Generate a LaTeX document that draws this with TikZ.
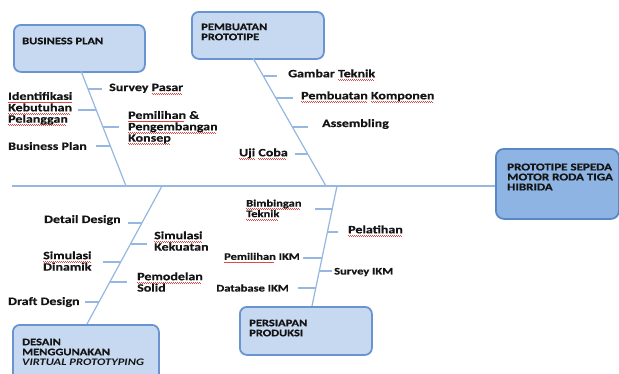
\documentclass[tikz,border=0pt]{standalone}
\usepackage{fontspec}
\setmainfont{Carlito}[FakeStretch=1.25, BoldFeatures={FakeBold=0.5}]
\usetikzlibrary{calc}
\definecolor{boxfill}{HTML}{C6D9F1}
\definecolor{boxline}{HTML}{6A94CF}
\definecolor{efffill}{HTML}{8DB4E2}
\definecolor{effline}{HTML}{5A87C5}
\definecolor{bonecol}{HTML}{95B7E0}
\definecolor{txt}{HTML}{141414}
\definecolor{squig}{HTML}{E04848}
\newsavebox\rwbox
\newcommand\rw[1]{\sbox\rwbox{#1}\rlap{\color{squig}\leaders\hbox to 2pt{\rule[-2.6pt]{1pt}{0.8pt}\rule[-3.3pt]{1pt}{0.8pt}}\hskip\wd\rwbox}\usebox\rwbox}
\tikzset{
  lab/.style={font=\fontsize{11.2}{11.4}\selectfont\bfseries, inner sep=0pt, align=left, text=txt},
  slab/.style={lab, font=\fontsize{10}{10.5}\selectfont\bfseries},
  boxtxt/.style={font=\fontsize{10}{10}\selectfont\bfseries, inner sep=0pt, align=left, text=txt},
  cbox/.style={draw=boxline, line width=1.8pt, fill=boxfill, rounded corners=7pt, inner sep=0pt},
  effbox/.style={draw=effline, line width=1.8pt, fill=efffill, rounded corners=8pt, inner sep=0pt},
  bone/.style={draw=bonecol, line width=1.2pt},
}
\begin{document}
\begin{tikzpicture}[x=1pt,y=-1pt]
\clip (0,0) rectangle (619,373);
\fill[white] (0,0) rectangle (619,373);

% boxes
\node[cbox, minimum width=131, minimum height=47, anchor=north west] (bpbox) at (13,24) {};
\node[cbox, minimum width=132, minimum height=47, anchor=north west] (ppbox) at (191,11) {};
\node[cbox, minimum width=146, minimum height=60, anchor=north west] (dsbox) at (12,324) {};
\node[cbox, minimum width=132, minimum height=48, anchor=north west] (psbox) at (239,306) {};
\node[effbox, minimum width=123, minimum height=70, anchor=north west] (eff) at (495,148) {};

% box texts
\node[boxtxt, anchor=west] (bpt) at (22,41) {BUSINESS PLAN};
\node[boxtxt, anchor=west] (ppt) at (201,32) {PEMBUATAN\\PROTOTIPE};
\node[boxtxt, anchor=west] (dst) at (22,352) {DESAIN\\MENGGUNAKAN\\\itshape VIRTUAL PROTOTYPING};
\node[boxtxt, anchor=west] (pst) at (249,328) {PERSIAPAN\\PRODUKSI};
\node[boxtxt, font=\fontsize{10.4}{10}\selectfont\bfseries, anchor=west] (efft) at (507,177) {PROTOTIPE SEPEDA\\MOTOR RODA TIGA\\HIBRIDA};

% spine
\coordinate (spL) at (12,186);
\draw[bone] (spL) -- (spL -| eff.west);

% bones
\coordinate (bpA) at (81,71);  \coordinate (bpB) at (126,186);
\coordinate (ppA) at (253,58); \coordinate (ppB) at (326,186);
\coordinate (dsA) at (162,186); \coordinate (dsB) at (87,324);
\coordinate (psA) at (337,186); \coordinate (psB) at (312,306);
\draw[bone] (bpA) -- (bpB);
\draw[bone] (ppA) -- (ppB);
\draw[bone] (dsA) -- (dsB);
\draw[bone] (psA) -- (psB);

% Business plan labels
\node[lab, anchor=west] (l1) at (109,89) {Survey \rw{Pasar}};
\node[lab, anchor=west] (l2) at (8,109) {\rw{Identifikasi}\\\rw{Kebutuhan}\\\rw{Pelanggan}};
\node[lab, anchor=west] (l3) at (128,128) {\rw{Pemilihan} \&\\\rw{Pengembangan}\\\rw{Konsep}};
\node[lab, anchor=west] (l4) at (8,146) {Business Plan};
\coordinate (a1) at (88,89);   \coordinate (b1) at (102,89);
\coordinate (a2) at (96.3,110); \coordinate (b2) at (78,110);
\coordinate (a3) at (102.9,127); \coordinate (b3) at (119,127);
\coordinate (a4) at (110.3,146); \coordinate (b4) at (96,146);
\foreach \i in {1,...,4} \draw[bone] (a\i) -- (b\i);

% Pembuatan prototipe labels
\node[lab, anchor=west] (l5) at (288,75) {Gambar \rw{Teknik}};
\node[lab, anchor=west] (l6) at (301,97) {\rw{Pembuatan} \rw{Komponen}};
\node[lab, anchor=west] (l7) at (322,124) {Assembling};
\node[lab, anchor=east] (l8) at (288,154) {\rw{Uji} \rw{Coba}};
\coordinate (a5) at (263.3,76);  \coordinate (b5) at (277,76);
\coordinate (a6) at (275.8,98);  \coordinate (b6) at (293,98);
\coordinate (a7) at (292.3,127); \coordinate (b7) at (308,127);
\coordinate (a8) at (307.7,154); \coordinate (b8) at (295,154);
\foreach \i in {5,...,8} \draw[bone] (a\i) -- (b\i);

% Desain labels
\node[lab, anchor=west] (l9) at (44,220) {Detail Design};
\node[lab, anchor=west] (l10) at (154,241) {\rw{Simulasi}\\Kekuatan};
\node[lab, anchor=west] (l11) at (43,261) {\rw{Simulasi}\\Dinamik};
\node[lab, anchor=west] (l12) at (137,282) {\rw{Pemodelan}\\Solid};
\node[lab, anchor=west] (l13) at (8,302) {Draft Design};
\coordinate (a9) at (141.9,223);  \coordinate (b9) at (128,223);
\coordinate (a10) at (130.5,244); \coordinate (b10) at (147,244);
\coordinate (a11) at (120.7,262); \coordinate (b11) at (103,262);
\coordinate (a12) at (109.8,282); \coordinate (b12) at (127,282);
\coordinate (a13) at (99,302);    \coordinate (b13) at (85,302);
\foreach \i in {9,...,13} \draw[bone] (a\i) -- (b\i);

% Persiapan labels
\node[slab, anchor=west] (l14) at (246,210) {\rw{Bimbingan}\\\rw{Teknik}};
\node[lab, anchor=west] (l15) at (348,231) {\rw{Pelatihan}};
\node[slab, anchor=east] (l16) at (300,258) {\rw{Pemilihan} IKM};
\node[slab, anchor=west] (l17) at (334,272) {Survey IKM};
\node[slab, anchor=east] (l18) at (289,288) {Database IKM};
\coordinate (a14) at (332.2,209); \coordinate (b14) at (315,209);
\coordinate (a15) at (327.4,232); \coordinate (b15) at (338,232);
\coordinate (a16) at (322,258);   \coordinate (b16) at (303,258);
\coordinate (a17) at (319.3,271); \coordinate (b17) at (332,271);
\coordinate (a18) at (315.8,288); \coordinate (b18) at (298,288);
\foreach \i in {14,...,18} \draw[bone] (a\i) -- (b\i);
\end{tikzpicture}
\end{document}
